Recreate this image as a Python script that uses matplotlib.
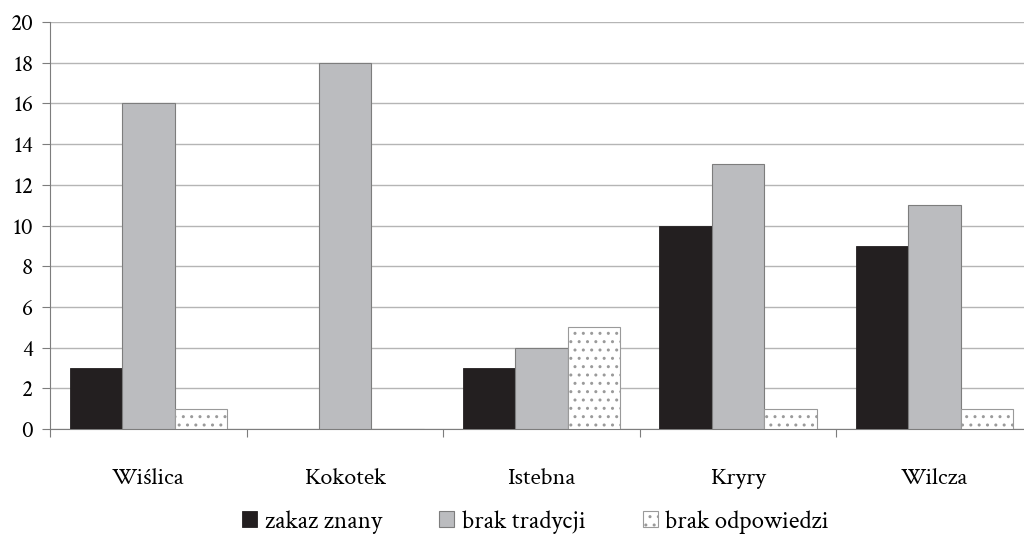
import matplotlib.pyplot as plt
import numpy as np

categories = ['Wiślica', 'Kokotek', 'Istebna', 'Kryry', 'Wilcza']
zakaz_znany = [3, 0, 3, 10, 9]
brak_tradycji = [16, 18, 4, 13, 11]
brak_odpowiedzi = [1, 0, 5, 1, 1]
series_names = ['zakaz znany', 'brak tradycji', 'brak odpowiedzi']

plt.rcParams['font.family'] = ['Crimson Text', 'Crimson Pro', 'DejaVu Serif']
plt.rcParams['hatch.color'] = '#8a8a8a'
plt.rcParams['hatch.linewidth'] = 1.0

fig = plt.figure(figsize=(10.24, 5.35), dpi=100)
ax = fig.add_axes([50 / 1024, 1 - 429 / 535, 983 / 1024, 407 / 535])

x = np.arange(len(categories))
w = 0.267
ax.bar(x - w, zakaz_znany, w, color='#231f20', edgecolor='#231f20', linewidth=0.6,
       label=series_names[0], zorder=3)
ax.bar(x, brak_tradycji, w, color='#bbbcbf', edgecolor='#7d7d7d', linewidth=0.8,
       label=series_names[1], zorder=3)
ax.bar(x + w, brak_odpowiedzi, w, color='white', edgecolor='#9a9a9a', linewidth=0.8,
       hatch='..', label=series_names[2], zorder=3)

ax.set_xlim(-0.5, len(categories) - 0.5)
ax.set_ylim(0, 20)
ax.set_yticks(range(0, 21, 2))
ax.yaxis.grid(True, color='#b5b5b5', linewidth=1.0, zorder=0)
ax.set_axisbelow(True)
ax.set_xticks(np.arange(-0.5, len(categories), 1.0), minor=False)
ax.set_xticklabels([])
ax.set_xticks(x, minor=True)
ax.set_xticklabels(categories, minor=True, fontsize=17.5)
ax.tick_params(axis='x', which='minor', length=0, pad=28)
ax.tick_params(axis='x', which='major', length=6, color='#7d7d7d', direction='out')
ax.tick_params(axis='y', length=6, color='#7d7d7d', labelsize=17, pad=6)

for s in ['top', 'right']:
    ax.spines[s].set_visible(False)
ax.spines['left'].set_color('#7d7d7d')
ax.spines['bottom'].set_color('#7d7d7d')

fig.legend(loc='center', bbox_to_anchor=(0.523, 1 - 522 / 535), ncol=3, frameon=False,
           fontsize=18, handlelength=0.6, handleheight=0.6, handletextpad=0.3,
           columnspacing=2.3)

fig.savefig('out.png', dpi=100)
